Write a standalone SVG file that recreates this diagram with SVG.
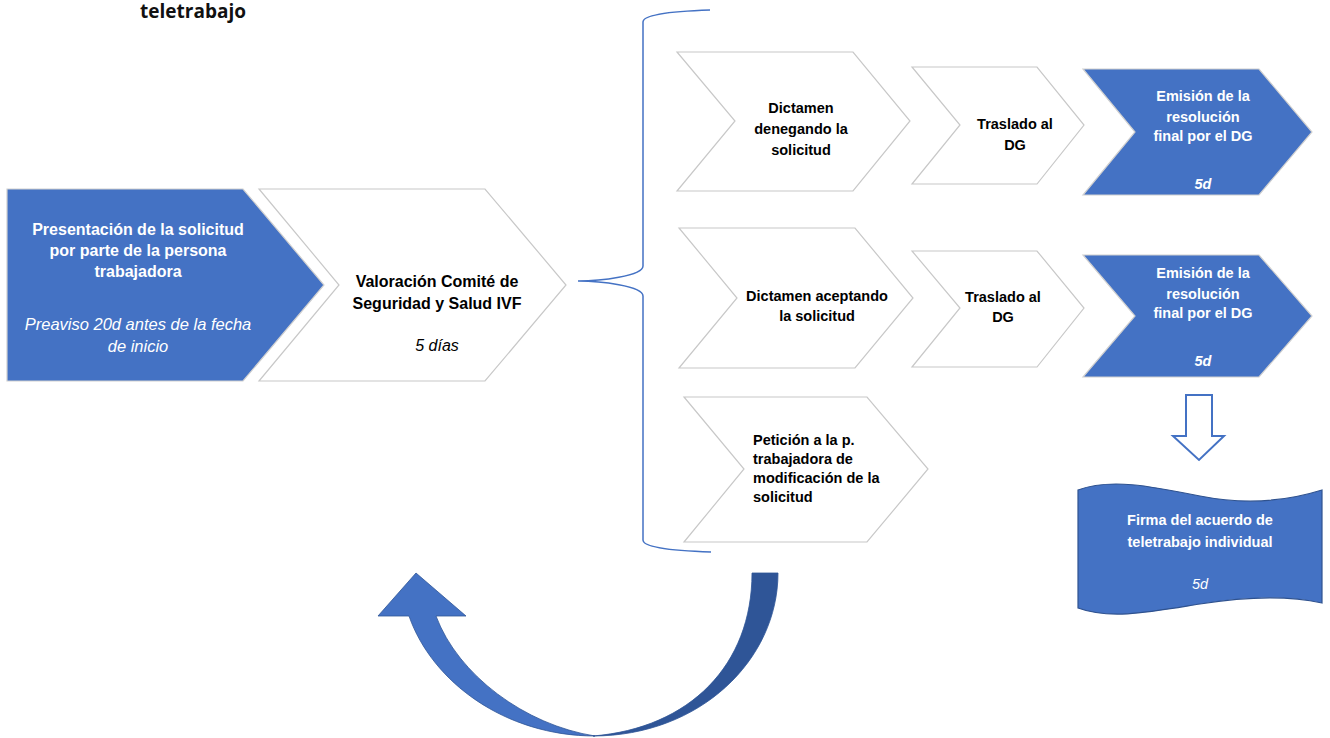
<svg xmlns="http://www.w3.org/2000/svg" width="1330" height="738" viewBox="0 0 1330 738">
<style>
.wchev{fill:#ffffff;stroke:#c8c8c8;stroke-width:1.2}
.bchev{fill:#4472C4;stroke:#d0d0d0;stroke-width:1.2}
.t{font-family:"Liberation Sans",Arial,sans-serif;text-anchor:middle}
.b{font-weight:bold}
.i{font-style:italic}
.k{fill:#000000}
.w{fill:#ffffff}
.s16{font-size:16px}
.s145{font-size:14.5px}
</style>
<rect width="1330" height="738" fill="#ffffff"/>
<text x="193" y="18" style="font-family:'Open Sans',sans-serif;font-weight:bold;font-size:19px;text-anchor:middle" fill="#111111">teletrabajo</text>

<g id="connectors">
  <path d="M710,10 C680,11 643,14 643,22 L643,266 C643,276 600,281 578,281 C600,281 643,286 643,296 L643,540 C643,548 680,551 711,552" fill="none" stroke="#4472C4" stroke-width="1.5"/>
  <path d="M1186,395 L1212,395 L1212,436 L1224,436 L1199,460 L1173,436 L1186,436 Z" fill="#ffffff" stroke="#4472C4" stroke-width="2"/>
  <g id="loop-arrow">
    <path d="M752,573 L778,573 C778,660 700,736 593,736 C690,728 752,665 752,573 Z" fill="#2F5597" stroke="#2F5597" stroke-width="0.8"/>
    <path d="M595,736 C505,736 432,682 409,616 L378,616 L416,573 L466,616 L436,616 C458,675 525,725 595,736 Z" fill="#4472C4" stroke="#2F5597" stroke-width="0.8"/>
  </g>
</g>

<g id="n-presentacion">
  <polygon class="bchev" points="7,189 243,189 324,285 243,381 7,381"/>
  <text class="t b w s16" x="138" y="235">Presentación de la solicitud</text>
  <text class="t b w s16" x="138" y="256">por parte de la persona</text>
  <text class="t b w s16" x="138" y="277">trabajadora</text>
  <text class="t i w" style="font-size:16.5px" x="138" y="330">Preaviso 20d antes de la fecha</text>
  <text class="t i w" style="font-size:16.5px" x="138" y="352">de inicio</text>
</g>

<g id="n-valoracion">
  <polygon class="wchev" points="259,189 485,189 566,285 485,381 259,381 339,285"/>
  <text class="t b k s16" x="437" y="287">Valoración Comité de</text>
  <text class="t b k s16" x="437" y="309">Seguridad y Salud IVF</text>
  <text class="t i k s16" x="437" y="351">5 días</text>
</g>

<g id="n-denegando">
  <polygon class="wchev" points="677,52 853,52 910,121 853,191 677,191 735,121"/>
  <text class="t b k s145" x="801" y="113">Dictamen</text>
  <text class="t b k s145" x="801" y="134">denegando la</text>
  <text class="t b k s145" x="801" y="155">solicitud</text>
</g>

<g id="n-traslado1">
  <polygon class="wchev" points="912,67 1037,67 1084,125 1037,184 912,184 960,125"/>
  <text class="t b k s145" x="1015" y="129">Traslado al</text>
  <text class="t b k s145" x="1015" y="150">DG</text>
</g>

<g id="n-emision1">
  <polygon class="bchev" points="1083,69 1259,69 1312,132 1259,195 1083,195 1135,132"/>
  <text class="t b w s145" x="1203" y="101">Emisión de la</text>
  <text class="t b w s145" x="1203" y="122">resolución</text>
  <text class="t b w s145" x="1203" y="141">final por el DG</text>
  <text class="t b i w s145" x="1203" y="189">5d</text>
</g>

<g id="n-aceptando">
  <polygon class="wchev" points="679,228 855,228 913,298 855,368 679,368 737,298"/>
  <text class="t b k s145" x="817" y="301">Dictamen aceptando</text>
  <text class="t b k s145" x="817" y="321">la solicitud</text>
</g>

<g id="n-traslado2">
  <polygon class="wchev" points="912,251 1037,251 1084,308 1037,367 912,367 960,308"/>
  <text class="t b k s145" x="1003" y="302">Traslado al</text>
  <text class="t b k s145" x="1003" y="322">DG</text>
</g>

<g id="n-emision2">
  <polygon class="bchev" points="1083,255 1259,255 1312,316 1259,377 1083,377 1135,316"/>
  <text class="t b w s145" x="1203" y="278">Emisión de la</text>
  <text class="t b w s145" x="1203" y="299">resolución</text>
  <text class="t b w s145" x="1203" y="318">final por el DG</text>
  <text class="t b i w s145" x="1203" y="366">5d</text>
</g>

<g id="n-peticion">
  <polygon class="wchev" points="684,397 867,397 928,469 867,542 684,542 744,469"/>
  <text class="b k s145" style="font-family:'Liberation Sans',Arial,sans-serif" x="753" y="445">Petición a la p.</text>
  <text class="b k s145" style="font-family:'Liberation Sans',Arial,sans-serif" x="753" y="464">trabajadora de</text>
  <text class="b k s145" style="font-family:'Liberation Sans',Arial,sans-serif" x="753" y="483">modificación de la</text>
  <text class="b k s145" style="font-family:'Liberation Sans',Arial,sans-serif" x="753" y="502">solicitud</text>
</g>

<g id="n-firma">
  <path d="M1078,490 C1110,478 1150,486 1200,496 C1250,506 1290,500 1322,490 L1322,603 C1290,596 1250,596 1200,604 C1150,612 1110,620 1078,608 Z" fill="#4472C4" stroke="#2F528F" stroke-width="1.2"/>
  <text class="t b w s145" x="1200" y="525">Firma del acuerdo de</text>
  <text class="t b w s145" x="1200" y="547">teletrabajo individual</text>
  <text class="t i w s145" x="1200" y="589">5d</text>
</g>
</svg>
